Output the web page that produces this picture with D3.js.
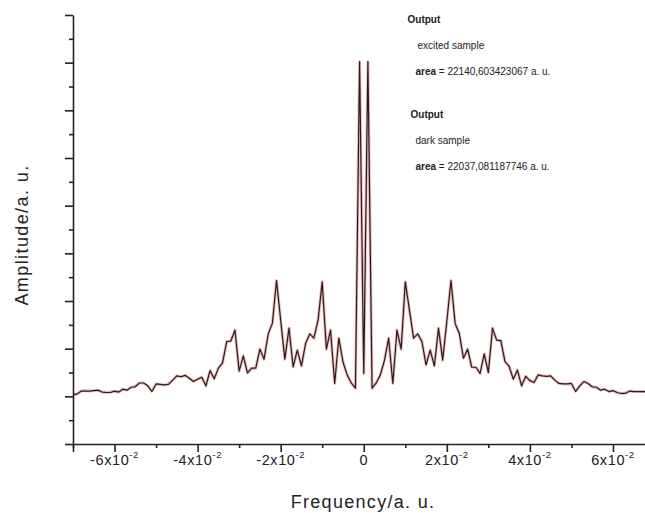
<!DOCTYPE html>
<html>
<head>
    <meta charset="UTF-8">
    <title>Amplitude spectrum</title>
    <script src="https://d3js.org/d3.v7.min.js"></script>
    <style>
        *{
            padding:0;
            margin:0;
        }
        body {
            background: #fff;
        }
        svg text {
            font-family: "Liberation Sans", Arial, sans-serif;
            fill: #222;
        }
        .axis path, .axis line {
            stroke: #222;
            stroke-width: 1.6px;
        }
    </style>
</head>
<body>
<svg id="main" width="645" height="513"></svg>
<script>
// frequency grid, in steps of 1x10^-3 (a. u.)
const stepIndex = d3.range(-70, 71);
const freq = stepIndex.map(i => i / 1000);

// amplitude, dark sample
const dark = [
    1.03, 1.05, 1.11, 1.11, 1.11, 1.12, 1.13, 1.09, 1.08, 1.08,
    1.11, 1.09, 1.15, 1.13, 1.19, 1.20, 1.28, 1.28, 1.22, 1.10,
    1.26, 1.25, 1.24, 1.25, 1.34, 1.43, 1.41, 1.44, 1.38, 1.31,
    1.36, 1.40, 1.22, 1.54, 1.37, 1.59, 1.70, 2.15, 2.16, 2.39,
    1.53, 1.85, 1.49, 1.59, 1.59, 1.99, 1.78, 2.31, 2.53, 3.43,
    2.60, 1.78, 2.43, 1.62, 1.97, 1.64, 2.11, 2.31, 2.22, 2.60,
    3.40, 1.99, 2.39, 1.27, 2.22, 1.72, 1.45, 1.28, 1.17, 8.02,
    1.48,
    8.02, 1.17, 1.28, 1.45, 1.76, 2.22, 1.27, 2.39, 1.99, 3.40,
    2.81, 2.22, 2.31, 2.15, 1.66, 1.97, 1.64, 2.43, 1.76, 2.57,
    3.43, 2.53, 2.32, 1.80, 1.99, 1.61, 1.61, 1.48, 1.89, 1.50,
    2.43, 2.18, 2.17, 1.73, 1.63, 1.36, 1.55, 1.22, 1.42, 1.33,
    1.29, 1.45, 1.43, 1.42, 1.43, 1.34, 1.27, 1.26, 1.26, 1.27,
    1.10, 1.22, 1.31, 1.27, 1.20, 1.19, 1.13, 1.15, 1.10, 1.12,
    1.08, 1.06, 1.06, 1.11, 1.10, 1.10, 1.10, 1.10, 1.10, 1.10
];

// excited sample (lies almost on top of the dark one)
const excited = [
    1.04, 1.05, 1.11, 1.12, 1.11, 1.12, 1.13, 1.09, 1.08, 1.09,
    1.11, 1.09, 1.15, 1.13, 1.19, 1.21, 1.28, 1.28, 1.22, 1.11,
    1.26, 1.25, 1.24, 1.26, 1.34, 1.43, 1.41, 1.44, 1.38, 1.31,
    1.36, 1.40, 1.22, 1.54, 1.37, 1.59, 1.70, 2.15, 2.16, 2.39,
    1.53, 1.85, 1.49, 1.59, 1.59, 1.99, 1.78, 2.31, 2.53, 3.43,
    2.60, 1.78, 2.43, 1.62, 1.97, 1.64, 2.11, 2.31, 2.22, 2.60,
    3.40, 1.99, 2.39, 1.27, 2.22, 1.72, 1.45, 1.28, 1.17, 8.02,
    1.48,
    8.02, 1.17, 1.28, 1.45, 1.76, 2.22, 1.27, 2.39, 1.99, 3.40,
    2.81, 2.22, 2.31, 2.15, 1.66, 1.97, 1.64, 2.43, 1.76, 2.57,
    3.43, 2.53, 2.32, 1.80, 1.99, 1.61, 1.61, 1.48, 1.89, 1.50,
    2.43, 2.18, 2.17, 1.73, 1.63, 1.36, 1.55, 1.22, 1.42, 1.33,
    1.29, 1.45, 1.43, 1.42, 1.43, 1.34, 1.27, 1.26, 1.26, 1.27,
    1.11, 1.22, 1.31, 1.27, 1.20, 1.19, 1.13, 1.15, 1.10, 1.12,
    1.08, 1.06, 1.07, 1.11, 1.10, 1.10, 1.10, 1.10, 1.10, 1.10
];

const xMajorTicks = [-0.06, -0.04, -0.02, 0, 0.02, 0.04, 0.06];
const xMinorTicks = [-0.07, -0.05, -0.03, -0.01, 0.01, 0.03, 0.05, 0.07];
const xTickMantissa = ["-6", "-4", "-2", "0", "2", "4", "6"];
const yMajorTicks = d3.range(0, 10);
const yMinorTicks = d3.range(0.5, 9, 1);

const legendLines = [
    { title: "Output", name: "excited sample", area: "22140,603423067" },
    { title: "Output", name: "dark sample", area: "22037,081187746" }
];

const svg = d3.select("#main");

// scales
const x = d3.scaleLinear().domain([-0.07, 0.07]).range([73, 654.5]);
const y = d3.scaleLinear().domain([0, 9]).range([444, 15]);

// curves
const line = d3.line()
    .x(d => x(d[0]))
    .y(d => y(d[1]));

svg.append("path")
    .datum(freq.map((f, i) => [f, excited[i]]))
    .attr("fill", "none")
    .attr("stroke", "#d99090")
    .attr("stroke-width", 3)
    .attr("stroke-opacity", 0.6)
    .attr("stroke-linejoin", "round")
    .attr("d", line);

svg.append("path")
    .datum(freq.map((f, i) => [f, dark[i]]))
    .attr("fill", "none")
    .attr("stroke", "#2e1a1a")
    .attr("stroke-width", 1.2)
    .attr("stroke-linejoin", "round")
    .attr("d", line);

// x axis
const xAxis = svg.append("g")
    .attr("class", "axis")
    .attr("transform", "translate(0,444)");

xAxis.call(d3.axisBottom(x).tickValues(xMajorTicks).tickSize(8).tickFormat(""));
xAxis.append("g")
    .call(d3.axisBottom(x).tickValues(xMinorTicks).tickSize(4).tickFormat(""))
    .select(".domain").remove();

// tick labels like -6x10^-2
const xLabels = svg.append("g");
xMajorTicks.forEach((t, i) => {
    const txt = xLabels.append("text")
        .attr("x", x(t))
        .attr("y", 465)
        .attr("text-anchor", "middle")
        .attr("font-size", 14.5)
        .attr("letter-spacing", 0.6);
    txt.append("tspan").text(t === 0 ? "0" : xTickMantissa[i] + "x10");
    if (t !== 0) {
        txt.append("tspan")
            .attr("font-size", 9.5)
            .attr("dy", -7)
            .text("-2");
    }
});

// y axis, no labels
const yAxis = svg.append("g")
    .attr("class", "axis")
    .attr("transform", "translate(73,0)");

yAxis.call(d3.axisLeft(y).tickValues(yMajorTicks).tickSize(8).tickFormat("").tickSizeOuter(0));
yAxis.append("g")
    .call(d3.axisLeft(y).tickValues(yMinorTicks).tickSize(4).tickFormat(""))
    .select(".domain").remove();

// axis titles
svg.append("text")
    .attr("x", 363)
    .attr("y", 508)
    .attr("text-anchor", "middle")
    .attr("font-size", 18)
    .attr("letter-spacing", 1.3)
    .text("Frequency/a. u.");

svg.append("text")
    .attr("transform", "translate(28,235) rotate(-90)")
    .attr("text-anchor", "middle")
    .attr("font-size", 18)
    .attr("letter-spacing", 1.4)
    .text("Amplitude/a. u.");

// annotation text
const legend = svg.append("g").attr("font-size", 10);
legendLines.forEach((d, i) => {
    const top = i * 94.5;
    legend.append("text")
        .attr("x", 407.5 + i * 3)
        .attr("y", 23.3 + top)
        .attr("font-weight", "bold")
        .text(d.title);
    legend.append("text")
        .attr("x", 417.5 - i * 2)
        .attr("y", 49 + top)
        .text(d.name);
    const a = legend.append("text")
        .attr("x", 415.5)
        .attr("y", 75 + top);
    a.append("tspan").attr("font-weight", "bold").text("area");
    a.append("tspan").text(" = " + d.area + " a. u.");
});
</script>
</body>
</html>
